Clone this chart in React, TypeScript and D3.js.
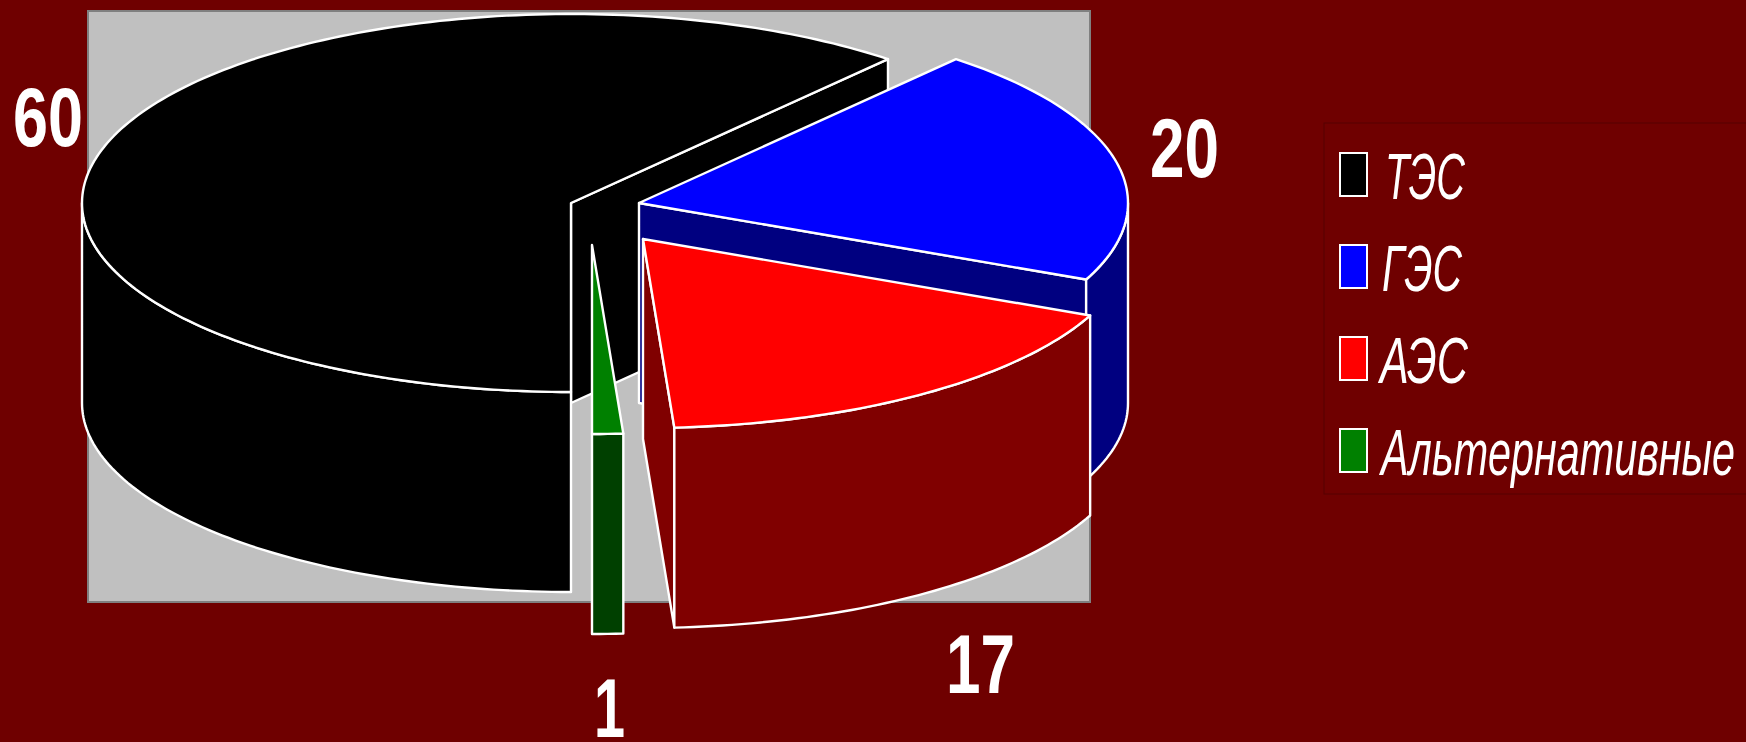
import { useLayoutEffect, useRef } from 'react';
import * as d3 from 'd3';

const categories = ['ТЭС', 'ГЭС', 'АЭС', 'Альтернативные'];
const values = [60, 20, 17, 1];
const valueLabels = ['60', '20', '17', '1'];

const TOP_COLORS = ['#000000', '#0000ff', '#ff0000', '#008000'];
const SIDE_COLORS = ['#000000', '#000080', '#800000', '#004000'];

const WIDTH = 1746;
const HEIGHT = 742;
const BG = '#6f0000';
const PLOT_FILL = '#c0c0c0';
const LINE = '#ffffff';

const RX = 489;
const RY = 189;
const DEPTH = 200;

// exploded apex of each slice
const APEX_X = [571, 639, 643, 592];
const APEX_Y = [203, 203, 239, 245];

// label boxes, left edge + baseline + squeezed width
const LABEL_X = [13, 1150, 946, 594];
const LABEL_Y = [146, 177, 693, 737];
const LABEL_W = [70, 69, 69, 31];

const LEGEND_SWATCH_Y = [153, 245, 337, 429];
const LEGEND_TEXT_X = [1385, 1382, 1380, 1381];
const LEGEND_BASELINE = [199, 291, 383, 475];
const LEGEND_TEXT_W = [80, 80, 88, 354];

const pieAngles = d3
  .pie<number>()
  .sort(null)
  .startAngle(Math.PI)
  .endAngle(3 * Math.PI)(values);

const lineGen = d3.line<[number, number]>();

// samples an elliptical arc, a is clockwise from north
function arcPoints(cx: number, cy: number, a0: number, a1: number) {
  const n = Math.max(2, Math.ceil(Math.abs(a1 - a0) / 0.02));
  return d3.range(n + 1).map((i): [number, number] => {
    const a = a0 + ((a1 - a0) * i) / n;
    return [cx + RX * Math.sin(a), cy - RY * Math.cos(a)];
  });
}

// front half of the rim, the part of the wall one can see
function frontRanges(a0: number, a1: number) {
  const out: [number, number][] = [];
  for (let k = -1; k <= 1; k++) {
    const lo = Math.PI / 2 + k * 2 * Math.PI;
    const hi = (3 * Math.PI) / 2 + k * 2 * Math.PI;
    const s = Math.max(a0, lo);
    const e = Math.min(a1, hi);
    if (e > s) out.push([s, e]);
  }
  return out;
}

function Slice({ i }: { i: number }) {
  const { startAngle: a0, endAngle: a1 } = pieAngles[i];
  const cx = APEX_X[i];
  const cy = APEX_Y[i];
  const side = SIDE_COLORS[i];
  const tipX = cx + RX * Math.sin(a1);
  const tipY = cy - RY * Math.cos(a1);

  const top = [[cx, cy] as [number, number], ...arcPoints(cx, cy, a0, a1)];

  const walls = frontRanges(a0, a1).map(([s, e]) => [
    ...arcPoints(cx, cy, s, e),
    ...arcPoints(cx, cy + DEPTH, e, s),
  ]);

  const endFace: [number, number][] = [
    [cx, cy],
    [tipX, tipY],
    [tipX, tipY + DEPTH],
    [cx, cy + DEPTH],
  ];

  return (
    <g stroke={LINE} strokeWidth={2.4} strokeLinejoin='round'>
      {Math.sin(a1) > 0.001 && (
        <path d={`${lineGen(endFace)}Z`} fill={side} />
      )}
      {walls.map((w, k) => (
        <path key={k} d={`${lineGen(w)}Z`} fill={side} />
      ))}
      <path d={`${lineGen(top)}Z`} fill={TOP_COLORS[i]} />
    </g>
  );
}

// squeezes the glyphs horizontally to the measured width of the original narrow font
function FitText({
  x,
  y,
  w,
  children,
  ...rest
}: {
  x: number;
  y: number;
  w: number;
  children: string;
  [key: string]: unknown;
}) {
  const ref = useRef<SVGTextElement>(null);
  useLayoutEffect(() => {
    const el = ref.current;
    if (!el) return;
    const sx = w / el.getComputedTextLength();
    el.setAttribute('transform', `translate(${x},${y}) scale(${sx},1)`);
  }, [x, y, w]);
  return (
    <text ref={ref} fill='#ffffff' {...rest}>
      {children}
    </text>
  );
}

export default function App() {
  return (
    <svg
      width={WIDTH}
      height={HEIGHT}
      viewBox={`0 0 ${WIDTH} ${HEIGHT}`}
      style={{ position: 'absolute', left: 0, top: 0, display: 'block' }}
    >
      <rect width={WIDTH} height={HEIGHT} fill={BG} />

      {/* Plot area */}
      <rect
        x={88}
        y={11}
        width={1002}
        height={591}
        fill={PLOT_FILL}
        stroke='#808080'
        strokeWidth={2}
      />

      {/* Slices, back to front */}
      {categories.map((c, i) => (
        <Slice key={c} i={i} />
      ))}

      {/* Value labels */}
      {valueLabels.map((t, i) => (
        <FitText
          key={t}
          x={LABEL_X[i]}
          y={LABEL_Y[i]}
          w={LABEL_W[i]}
          fontFamily='"Liberation Sans", sans-serif'
          fontWeight={700}
          fontSize={84}
        >
          {t}
        </FitText>
      ))}

      {/* Legend */}
      <rect
        x={1324}
        y={123}
        width={440}
        height={371}
        fill={BG}
        stroke='#560000'
        strokeWidth={1}
      />
      {categories.map((c, i) => (
        <g key={c}>
          <rect
            x={1340}
            y={LEGEND_SWATCH_Y[i]}
            width={27}
            height={43}
            fill={TOP_COLORS[i]}
            stroke='#ffffff'
            strokeWidth={2}
          />
          <FitText
            x={LEGEND_TEXT_X[i]}
            y={LEGEND_BASELINE[i]}
            w={LEGEND_TEXT_W[i]}
            fontFamily='"Liberation Sans", sans-serif'
            fontStyle='italic'
            fontSize={65}
          >
            {c}
          </FitText>
        </g>
      ))}
    </svg>
  );
}
